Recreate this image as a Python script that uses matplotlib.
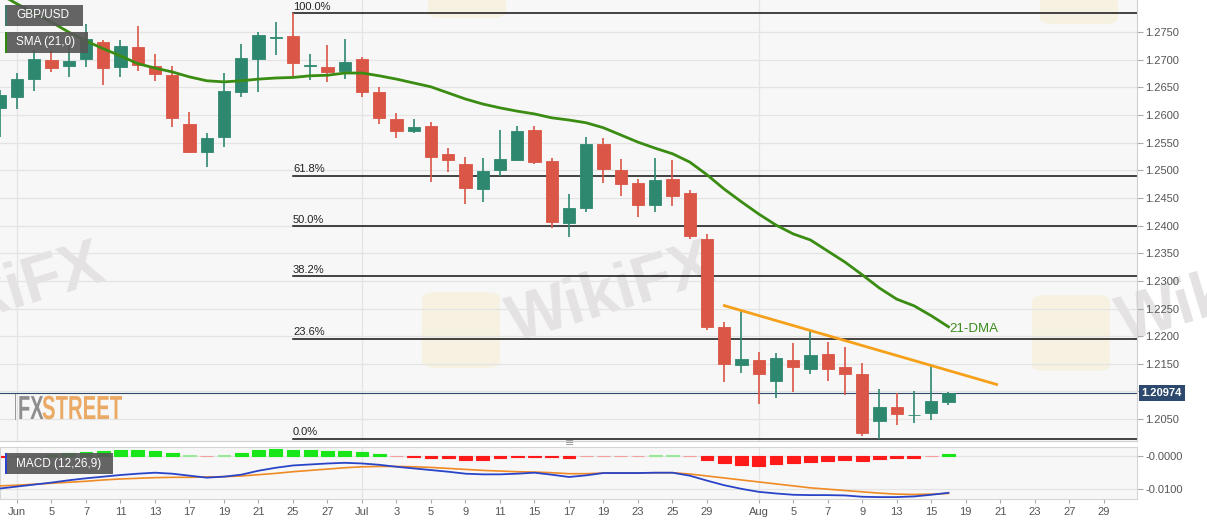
import numpy as np
import pandas as pd
import matplotlib
matplotlib.use('Agg')
import matplotlib.pyplot as plt
from matplotlib.patches import Rectangle, FancyBboxPatch
from matplotlib.patheffects import AbstractPathEffect
from matplotlib.transforms import Affine2D

plt.rcParams['font.family'] = ['Liberation Sans', 'DejaVu Sans']

# GBP/USD daily candles, 31 May - 16 Aug 2019
dates = pd.bdate_range('2019-05-31', '2019-08-16')
opens = [1.2613, 1.2633, 1.2665, 1.2700, 1.2689, 1.2701, 1.2732, 1.2687, 1.2723, 1.2689,
         1.2672, 1.2584, 1.2533, 1.2560, 1.2642, 1.2701, 1.2739, 1.2743, 1.2689, 1.2687,
         1.2680, 1.2701, 1.2642, 1.2593, 1.2571, 1.2580, 1.2530, 1.2512, 1.2466, 1.2501,
         1.2519, 1.2573, 1.2517, 1.2405, 1.2432, 1.2548, 1.2501, 1.2477, 1.2437, 1.2484,
         1.2459, 1.2376, 1.2217, 1.2148, 1.2157, 1.2119, 1.2157, 1.2141, 1.2168, 1.2144,
         1.2132, 1.2047, 1.2072, 1.2057, 1.2061, 1.2081]
highs = [1.2645, 1.2676, 1.2718, 1.2718, 1.2730, 1.2765, 1.2736, 1.2736, 1.2761, 1.2710,
         1.2689, 1.2606, 1.2568, 1.2676, 1.2729, 1.2750, 1.2768, 1.2784, 1.2710, 1.2727,
         1.2738, 1.2705, 1.2651, 1.2604, 1.2593, 1.2588, 1.2540, 1.2524, 1.2522, 1.2573,
         1.2580, 1.2580, 1.2522, 1.2457, 1.2560, 1.2559, 1.2521, 1.2484, 1.2522, 1.2519,
         1.2465, 1.2385, 1.2226, 1.2247, 1.2172, 1.2170, 1.2188, 1.2211, 1.2190, 1.2181,
         1.2152, 1.2105, 1.2097, 1.2101, 1.2146, 1.2099]
lows = [1.2560, 1.2611, 1.2644, 1.2678, 1.2669, 1.2687, 1.2654, 1.2669, 1.2680, 1.2662,
        1.2578, 1.2531, 1.2506, 1.2542, 1.2633, 1.2642, 1.2709, 1.2671, 1.2663, 1.2660,
        1.2665, 1.2633, 1.2584, 1.2559, 1.2568, 1.2479, 1.2497, 1.2439, 1.2443, 1.2490,
        1.2517, 1.2512, 1.2396, 1.2380, 1.2425, 1.2477, 1.2454, 1.2416, 1.2425, 1.2436,
        1.2376, 1.2211, 1.2117, 1.2134, 1.2077, 1.2088, 1.2099, 1.2132, 1.2119, 1.2094,
        1.2020, 1.2014, 1.2039, 1.2043, 1.2049, 1.2076]
closes = [1.2636, 1.2665, 1.2701, 1.2685, 1.2698, 1.2738, 1.2685, 1.2725, 1.2690, 1.2674,
          1.2595, 1.2533, 1.2558, 1.2644, 1.2703, 1.2745, 1.2741, 1.2694, 1.2690, 1.2678,
          1.2696, 1.2642, 1.2595, 1.2571, 1.2578, 1.2524, 1.2519, 1.2468, 1.2499, 1.2521,
          1.2571, 1.2515, 1.2407, 1.2432, 1.2548, 1.2502, 1.2475, 1.2437, 1.2483, 1.2454,
          1.2381, 1.2217, 1.2150, 1.2159, 1.2132, 1.2161, 1.2144, 1.2166, 1.2141, 1.2132,
          1.2025, 1.2072, 1.2059, 1.2058, 1.2083, 1.2097]
sma21 = [1.2819, 1.2801, 1.2785, 1.2768, 1.2750, 1.2734, 1.2720, 1.2707, 1.2693, 1.2685,
         1.2678, 1.2669, 1.2662, 1.2660, 1.2662, 1.2665, 1.2667, 1.2668, 1.2671, 1.2672,
         1.2676, 1.2676, 1.2671, 1.2665, 1.2658, 1.2651, 1.2640, 1.2629, 1.2620, 1.2613,
         1.2607, 1.2602, 1.2595, 1.2591, 1.2586, 1.2577, 1.2564, 1.2551, 1.2540, 1.2530,
         1.2515, 1.2492, 1.2466, 1.2443, 1.2421, 1.2401, 1.2385, 1.2374, 1.2354, 1.2334,
         1.2311, 1.2287, 1.2267, 1.2255, 1.2237, 1.2217]

# MACD (12,26,9)
macd_line = [-0.0100, -0.0094, -0.0088, -0.0082, -0.0075, -0.0069, -0.0064, -0.0059, -0.0055, -0.0052,
             -0.0055, -0.0061, -0.0067, -0.0064, -0.0058, -0.0046, -0.0037, -0.0030, -0.0027, -0.0024,
             -0.0022, -0.0024, -0.0028, -0.0034, -0.0039, -0.0044, -0.0049, -0.0055, -0.0057, -0.0057,
             -0.0055, -0.0052, -0.0058, -0.0065, -0.0060, -0.0053, -0.0053, -0.0053, -0.0052, -0.0052,
             -0.0061, -0.0076, -0.0090, -0.0101, -0.0110, -0.0115, -0.0119, -0.0120, -0.0120, -0.0121,
             -0.0125, -0.0126, -0.0126, -0.0124, -0.0119, -0.0113]
signal_line = [-0.0092, -0.0090, -0.0087, -0.0084, -0.0081, -0.0078, -0.0074, -0.0071, -0.0069, -0.0067,
               -0.0066, -0.0066, -0.0065, -0.0064, -0.0062, -0.0058, -0.0054, -0.0049, -0.0045, -0.0041,
               -0.0037, -0.0034, -0.0033, -0.0033, -0.0034, -0.0036, -0.0039, -0.0042, -0.0045, -0.0047,
               -0.0049, -0.0050, -0.0052, -0.0055, -0.0055, -0.0053, -0.0053, -0.0053, -0.0052, -0.0052,
               -0.0056, -0.0062, -0.0068, -0.0074, -0.0080, -0.0086, -0.0092, -0.0098, -0.0102, -0.0106,
               -0.0110, -0.0114, -0.0117, -0.0118, -0.0117, -0.0115]
macd_hist = [-0.0004, -0.0001, 0.0002, 0.0003, 0.0008, 0.0012, 0.0013, 0.0017, 0.0016, 0.0013,
             0.0008, 0.0001, -0.0001, 0.0002, 0.0008, 0.0016, 0.0019, 0.0018, 0.0017, 0.0014,
             0.0013, 0.0010, 0.0005, -0.0001, -0.0003, -0.0007, -0.0008, -0.0012, -0.0012, -0.0008,
             -0.0004, -0.0003, -0.0005, -0.0006, -0.0002, -0.0001, -0.0001, -0.0001, 0.0001, 0.0001,
             -0.0002, -0.0014, -0.0024, -0.0030, -0.0031, -0.0027, -0.0023, -0.0019, -0.0016, -0.0012,
             -0.0015, -0.0011, -0.0008, -0.0006, -0.0002, 0.0004]

# fibonacci retracement of the 25 Jun high -> 12 Aug low
fib_high = 1.2784
fib_low = 1.2014
fib_levels = [0.0, 0.236, 0.382, 0.5, 0.618, 1.0]
fib_labels = ['0.0%', '23.6%', '38.2%', '50.0%', '61.8%', '100.0%']
fib_start = '2019-06-25'

# falling resistance line (x in trading-day units, price)
trend_x = [41.93, 57.87]
trend_y = [1.2256, 1.2112]
last_price = 1.20974

tick_dates = ['2019-06-03', '2019-06-05', '2019-06-07', '2019-06-11', '2019-06-13', '2019-06-17',
              '2019-06-19', '2019-06-21', '2019-06-25', '2019-06-27', '2019-07-01', '2019-07-03',
              '2019-07-05', '2019-07-09', '2019-07-11', '2019-07-15', '2019-07-17', '2019-07-19',
              '2019-07-23', '2019-07-25', '2019-07-29', '2019-08-01', '2019-08-05', '2019-08-07',
              '2019-08-09', '2019-08-13', '2019-08-15', '2019-08-19', '2019-08-21', '2019-08-23',
              '2019-08-27', '2019-08-29']
tick_labels = ['Jun', '5', '7', '11', '13', '17', '19', '21', '25', '27', 'Jul', '3', '5', '9', '11',
               '15', '17', '19', '23', '25', '29', 'Aug', '5', '7', '9', '13', '15', '19', '21', '23',
               '27', '29']
month_starts = ['2019-06-03', '2019-07-01', '2019-08-01']

all_days = pd.bdate_range('2019-05-31', '2019-08-30')
pos = np.arange(len(dates))
tick_pos = all_days.get_indexer(pd.to_datetime(tick_dates))
month_pos = all_days.get_indexer(pd.to_datetime(month_starts))

GREEN = '#2e8870'
RED = '#da5646'
W, H = 1207, 526


class Squeeze(AbstractPathEffect):
    # narrows glyphs horizontally around a pixel x, to mimic a condensed logo font
    def __init__(self, sx, x0):
        super().__init__()
        self.sx = sx
        self.x0 = x0

    def draw_path(self, renderer, gc, tpath, affine, rgbFace=None):
        t = affine + Affine2D().translate(-self.x0, 0).scale(self.sx, 1).translate(self.x0, 0)
        renderer.draw_path(gc, tpath, t, rgbFace)


fig = plt.figure(figsize=(W / 100, H / 100), dpi=100, facecolor='white')
ax = fig.add_axes([0, 1 - 441 / H, 1137 / W, 441 / H])
axm = fig.add_axes([0, 1 - 499 / H, 1137 / W, 52 / H], sharex=ax)

# ---- price panel
ax.set_facecolor('#f7f7f7')
ax.set_xlim(0.0145, 65.93)
ax.set_ylim(1.20104, 1.28081)
yt = np.round(np.arange(1.2050, 1.2751, 0.005), 4)
ax.set_yticks(yt)
ax.set_yticklabels(['' if abs(v - 1.21) < 1e-6 else '%.4f' % v for v in yt])
ax.yaxis.tick_right()
ax.tick_params(axis='y', length=4, color='#aaaaaa', labelsize=8, labelcolor='#555555', pad=2)
ax.tick_params(axis='x', length=0, labelbottom=False)
ax.grid(axis='y', color='#e4e4e4', lw=0.9, zorder=0)
for m in month_pos:
    ax.axvline(m, color='#e4e4e4', lw=0.9, zorder=0)
for s in ['top', 'left']:
    ax.spines[s].set_visible(False)
for s in ['right', 'bottom']:
    ax.spines[s].set_color('#d0d0d0')

# watermarks
for x0 in [-95, 515, 1125]:
    ax.text(x0 / W, 1 - 342 / H, 'WikiFX', transform=fig.transFigure, fontsize=46, weight='bold',
            color='#e4e2e2', rotation=17, rotation_mode='anchor', ha='left', va='baseline',
            zorder=0.5, clip_on=False)
for (x0, y0) in [(422, 292), (1032, 295), (428, -58), (1040, -52)]:
    ax.add_patch(FancyBboxPatch((x0 / W, 1 - (y0 + 76) / H), 78 / W, 76 / H,
                                boxstyle='round,pad=0,rounding_size=0.012', transform=fig.transFigure,
                                facecolor='#f5e6b8', edgecolor='none', alpha=0.35, zorder=0.5,
                                clip_on=False))

cols = [GREEN if c >= o else RED for o, c in zip(opens, closes)]
ax.vlines(pos, lows, highs, colors=cols, lw=1.2, zorder=3)
bottoms = np.minimum(opens, closes)
heights = np.maximum(np.abs(np.array(closes) - np.array(opens)), 0.00004)
ax.bar(pos, heights, bottom=bottoms, width=0.7, color=cols, edgecolor=cols, lw=0.6, zorder=4)

ax.plot(pos, sma21, color='#3a8c12', lw=2, zorder=5)
ax.text(pos[-1] + 0.05, sma21[-1] - 0.0004, '21-DMA', color='#3c8c1e', fontsize=9.5,
        ha='left', va='center', zorder=6)

fx0 = all_days.get_loc(pd.Timestamp(fib_start))
for lvl, lab in zip(fib_levels, fib_labels):
    y = fib_low + lvl * (fib_high - fib_low)
    ax.plot([fx0, 66], [y, y], color='#111111', lw=1.1, zorder=2)
    ax.text(fx0, y + 0.0003, lab, fontsize=8, color='#222222', ha='left', va='bottom', zorder=2)

ax.plot(trend_x, trend_y, color='#f6a01a', lw=2, zorder=6, solid_capstyle='butt')

ax.axhline(last_price, color='#2b4a6c', lw=0.8, zorder=2)
ax.text(1.004, last_price, '%.5f' % last_price, transform=ax.get_yaxis_transform(),
        fontsize=8, weight='bold', color='white', ha='left', va='center', clip_on=False, zorder=10,
        bbox=dict(boxstyle='square,pad=0.25', facecolor='#2d4a6e', edgecolor='none'))

# ---- MACD panel
axm.set_facecolor('#f7f7f7')
axm.set_ylim(-0.01318, 0.0026)
axm.set_yticks([-0.01, 0.0])
axm.set_yticklabels(['-0.0100', '-0.0000'])
axm.yaxis.tick_right()
axm.tick_params(axis='y', length=4, color='#aaaaaa', labelsize=8, labelcolor='#555555', pad=2)
axm.set_xticks(tick_pos)
axm.set_xticklabels(tick_labels)
axm.tick_params(axis='x', length=3, color='#aaaaaa', labelsize=8, labelcolor='#555555', pad=3)
axm.grid(axis='y', color='#e4e4e4', lw=0.9, zorder=0)
for m in month_pos:
    axm.axvline(m, color='#e4e4e4', lw=0.9, zorder=0)
for s in axm.spines.values():
    s.set_color('#d5d5d5')

hcols = []
for v in macd_hist:
    if v >= 0:
        hcols.append('#19e619' if v > 0.00025 else '#9be89b')
    else:
        hcols.append('#ff1a1a' if v < -0.00025 else '#f5a0a0')
axm.bar(pos, macd_hist, width=0.75, color=hcols, edgecolor=hcols, lw=0.8, zorder=2)
axm.plot(pos, signal_line, color='#f08a24', lw=1.2, zorder=3)
axm.plot(pos, macd_line, color='#2a44c8', lw=1.3, zorder=4)


# ---- labels / boxes in pixel coordinates
def box(x0, y0, x1, y1, stripe, text):
    fig.add_artist(Rectangle((x0 / W, 1 - y1 / H), (x1 - x0) / W, (y1 - y0) / H,
                             transform=fig.transFigure, facecolor='#575757', alpha=0.92,
                             edgecolor='none', zorder=20))
    fig.add_artist(Rectangle((x0 / W, 1 - y1 / H), 2 / W, (y1 - y0) / H,
                             transform=fig.transFigure, facecolor=stripe, edgecolor='none', zorder=21))
    fig.text((x0 + 11) / W, 1 - (y0 + y1) / 2 / H, text, color='white', fontsize=8.5,
             ha='left', va='center', zorder=22)


box(5, 5, 83, 26, '#3d7a6c', 'GBP/USD')
box(5, 32, 88, 53, '#2f8a0c', 'SMA (21,0)')
box(5, 453, 113, 474, '#2a44d0', 'MACD (12,26,9)')

fig.text(570 / W, 1 - 443 / H, '\u2261', color='#999999', fontsize=8, ha='center', va='center',
         family=['DejaVu Sans'])

# FXSTREET logo
fig.add_artist(Rectangle((15 / W, 1 - 420 / H), 1.2 / W, 26 / H, transform=fig.transFigure,
                         facecolor='#9a9a9a', edgecolor='none', zorder=5))
fig.text(18 / W, 1 - 419 / H, 'FX', color='#8e8e8e', fontsize=24, weight='bold', ha='left',
         va='baseline', path_effects=[Squeeze(0.6, 18)])
fig.text(42 / W, 1 - 419 / H, 'STREET', color='#eaa964', fontsize=24, weight='bold', ha='left',
         va='baseline', path_effects=[Squeeze(0.61, 42)])

fig.savefig('out.png', dpi=100, facecolor='white')
